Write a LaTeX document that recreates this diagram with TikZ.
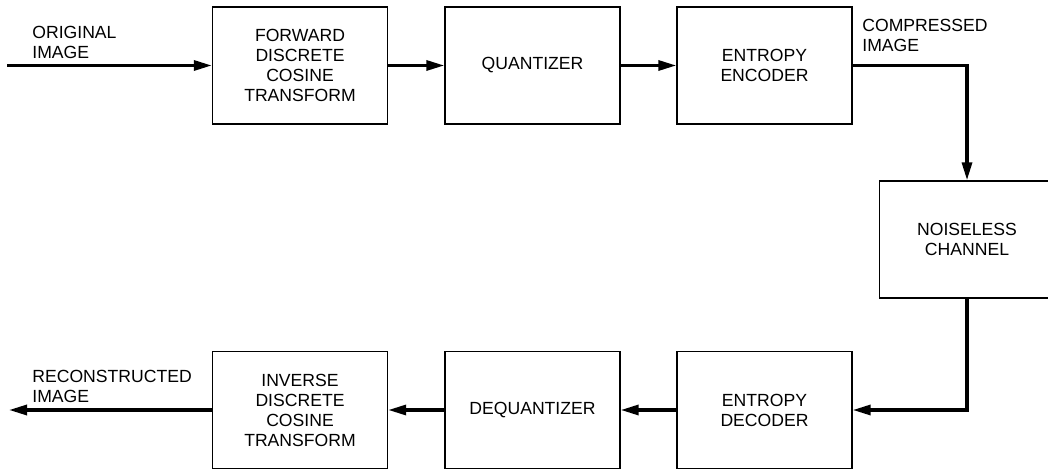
\documentclass[tikz,border=0pt]{standalone}
\usepackage{fontspec}
\setmainfont{Liberation Sans}
\usetikzlibrary{arrows.meta}
\begin{document}
\begin{tikzpicture}
[x=0.5pt, y=-0.5pt,
block/.style={draw, line width=0.7pt, minimum width=87.5pt, minimum height=58.5pt, align=center},
flow/.style={line width=1.6pt, -{Triangle[length=9pt,width=5pt]}},
tag/.style={align=left, anchor=west, inner sep=0pt}
]
\tikzset{every node/.style={font=\fontsize{8.8}{10}\selectfont}}
\useasboundingbox (0,0) rectangle (1048,469);
\clip (0,0) rectangle (1048,469);
% compression path
\node[block] (fdct) at (300,65.5) {FORWARD\\DISCRETE\\COSINE\\TRANSFORM};
\node[block] (quant) at (532.5,65.5) {QUANTIZER};
\node[block] (enc) at (764.5,65.5) {ENTROPY\\ENCODER};
\node[block] (chan) at (967,239.5) {NOISELESS\\CHANNEL};
% decompression path
\node[block] (dec) at (764.5,410) {ENTROPY\\DECODER};
\node[block] (deq) at (532.5,410) {DEQUANTIZER};
\node[block] (idct) at (300,410) {INVERSE\\DISCRETE\\COSINE\\TRANSFORM};
\node[tag] (orig) at (32,42) {ORIGINAL\\IMAGE};
\node[tag] (comp) at (862,35) {COMPRESSED\\IMAGE};
\node[tag] (recon) at (32,386) {RECONSTRUCTED\\IMAGE};
\coordinate (src) at (7,65.5);
\coordinate (dst) at (9,410);
\draw[flow] (src) -- (fdct.west);
\draw[flow] (fdct) -- (quant);
\draw[flow] (quant) -- (enc);
\draw[flow] (enc.east) -| (chan.north);
\draw[flow] (chan.south) |- (dec.east);
\draw[flow] (dec) -- (deq);
\draw[flow] (deq) -- (idct);
\draw[flow] (idct.west) -- (dst);
\end{tikzpicture}
\end{document}
